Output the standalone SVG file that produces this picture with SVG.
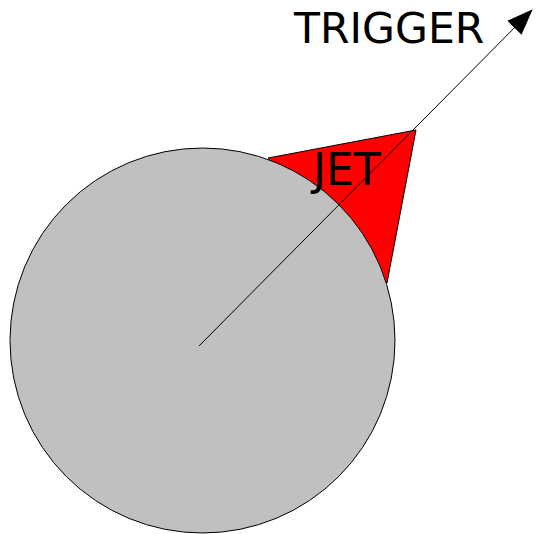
<svg xmlns="http://www.w3.org/2000/svg" width="536" height="534" viewBox="0 0 536 534">
  <defs>
    <style>
      .lbl { font-family: "DejaVu Sans", sans-serif; fill: #000; }
    </style>
    <marker id="arrow" markerWidth="26" markerHeight="20" refX="25" refY="10" orient="auto" markerUnits="userSpaceOnUse">
      <path d="M0,0 L26,10 L0,20 Z" fill="#000"/>
    </marker>
  </defs>
  <rect width="536" height="534" fill="#fff"/>
  <g id="jet">
    <polygon points="268,158 416,130 387,283" fill="#ff0000" stroke="#000" stroke-width="1"/>
  </g>
  <g id="body">
    <circle cx="202.5" cy="340.5" r="192.5" fill="#c0c0c0" stroke="#000" stroke-width="1"/>
  </g>
  <g id="connectors">
    <line x1="199" y1="346" x2="532" y2="10" stroke="#000" stroke-width="1" marker-end="url(#arrow)"/>
  </g>
  <g id="label-jet">
    <text class="lbl" x="313" y="185" font-size="44">JET</text>
  </g>
  <g id="label-trigger">
    <text class="lbl" x="294" y="43" font-size="42.5">TRIGGER</text>
  </g>
</svg>
